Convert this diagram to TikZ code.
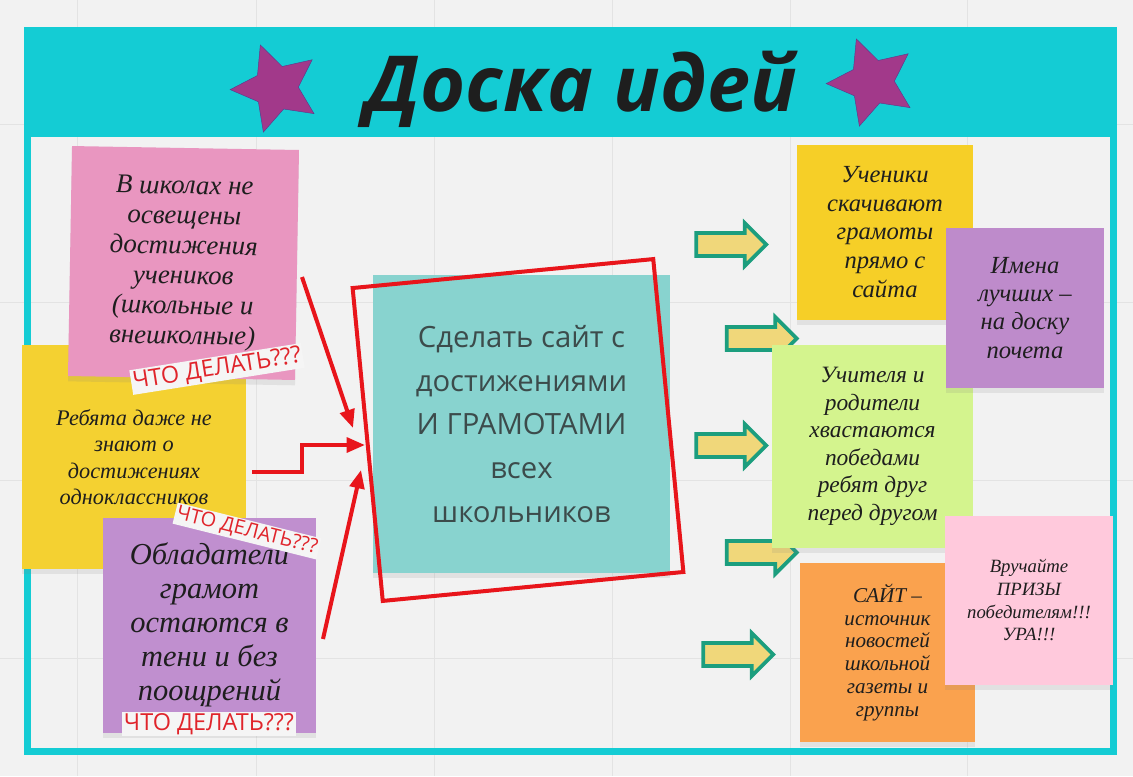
\documentclass[tikz,border=0pt]{standalone}
\usepackage{fontspec}
\newfontfamily\hand{Liberation Serif}
\newfontfamily\osans{Open Sans}
\usetikzlibrary{positioning,arrows.meta,shapes.geometric,shapes.arrows,shadows}
\definecolor{cbg}{HTML}{F2F2F2}
\definecolor{cgrid}{HTML}{E3E3E3}
\definecolor{cteal}{HTML}{14CCD4}
\definecolor{cstar}{HTML}{A2398A}
\definecolor{cstarline}{HTML}{5E3A8C}
\definecolor{cred}{HTML}{E8151B}
\definecolor{ctagred}{HTML}{E0242B}
\definecolor{ctag}{HTML}{F5F5F5}
\definecolor{cpink}{HTML}{E996C0}
\definecolor{cyellow}{HTML}{F4D131}
\definecolor{cviolet}{HTML}{C08FCF}
\definecolor{cmint}{HTML}{88D3CF}
\definecolor{cgold}{HTML}{F6CF27}
\definecolor{clilac}{HTML}{BE8BCB}
\definecolor{clime}{HTML}{D4F48E}
\definecolor{corange}{HTML}{FAA24E}
\definecolor{crose}{HTML}{FFC9DC}
\definecolor{cgreen}{HTML}{1C9E7E}
\definecolor{cbody}{HTML}{F0D77A}
\definecolor{cink}{HTML}{1E1E1E}
\definecolor{cslate}{HTML}{3C4B4B}
\newcommand\handsz[2]{\hand\itshape\fontsize{#1}{#2}\selectfont}
\tikzset{
  note/.style={rectangle, inner sep=0pt, align=center, text=cink, drop shadow={shadow xshift=0pt, shadow yshift=-1.6mm, opacity=.15}},
  tag/.style={fill=ctag, text=ctagred, inner sep=1.5pt},
  redarr/.style={draw=cred, line width=1.2mm, -{Triangle[length=5.5mm, width=4.4mm]}},
  fatarr/.style={single arrow, draw=cgreen, fill=cbody, line width=1.1mm, inner sep=0pt, text height=0.58cm, text depth=0pt, minimum height=2.1cm, single arrow head extend=0.3cm},
  star5/.style={star, star points=5, star point ratio=2.05, fill=cstar, draw=cstarline, thin, minimum size=2.75cm, inner sep=0pt},
  gridline/.style={draw=cgrid, line width=0.4pt},
}
\begin{document}
\begin{tikzpicture}[x=0.03cm, y=-0.03cm]
  % board
  \fill[cbg] (0,0) rectangle (1133,776);
  \useasboundingbox (0,0) rectangle (1133,776);
  \foreach \gx in {77,256,434,612,790,967} \draw[gridline] (\gx,0) -- (\gx,776);
  \foreach \gy in {124,302,480,658} \draw[gridline] (0,\gy) -- (1133,\gy);
  \fill[cteal] (24,27) rectangle (1117,137);
  \draw[cteal, line width=2.1mm] (27.5,30.5) rectangle (1113.5,751.5);

  % title
  \node[star5, rotate=20] (sl) at (276,88) {};
  \node[star5, rotate=20] (sr) at (872,82) {};
  \node[anchor=base, inner sep=0pt, font=\osans\bfseries\itshape\fontsize{66}{70}\selectfont, text=cink] (ttl) at (581,111) {Доска идей};

  % problems
  \node[note, fill=cyellow, minimum width=6.72cm, minimum height=6.72cm, font=\handsz{19}{22.5}] (nR) at (134,457) {Ребята даже не\\знают о\\достижениях\\одноклассников};
  \node[note, fill=cpink, minimum width=6.81cm, minimum height=6.9cm, rotate=-1, font=\handsz{23}{25.6}] (nB) at (183.5,263) {В школах не\\освещены\\достижения\\учеников\\(школьные и\\внешколные)};
  \node[note, fill=cviolet, minimum width=6.39cm, minimum height=6.45cm, font=\handsz{26}{29}] (nO) at (209.5,625) {Обладатели\\грамот\\остаются в\\тени и без\\поощрений};
  \node[tag, rotate=9, font=\osans\fontsize{20}{22}\selectfont] (q1) at (217,369) {ЧТО ДЕЛАТЬ???};
  \node[tag, rotate=-14, font=\osans\fontsize{17}{19}\selectfont] (q2) at (247,531) {ЧТО ДЕЛАТЬ???};
  \node[tag, font=\osans\fontsize{20}{22}\selectfont] (q3) at (209,724) {ЧТО ДЕЛАТЬ???};

  % idea
  \node[note, fill=cmint, minimum width=8.91cm, minimum height=8.94cm, text=cslate, font=\osans\fontsize{25}{37.5}\selectfont] (nC) at (521.5,424) {Сделать сайт с\\достижениями\\И ГРАМОТАМИ\\всех\\школьников};
  \node[draw=cred, line width=1.2mm, minimum width=9.06cm, minimum height=9.43cm, rotate=5.5] (rf) at (518,430) {};

  \coordinate (s1) at (302,277);
  \coordinate (t1) at (353,428);
  \coordinate (s2) at (252,472);
  \coordinate (t2) at (365,445);
  \coordinate (s3) at (323,639);
  \coordinate (t3) at (361,470);
  \draw[redarr] (s1) -- (t1);
  \draw[redarr] (s2) -- ++(50,0) |- (t2);
  \draw[redarr] (s3) -- (t3);

  % results
  \node[fatarr] (a1) at (725.5,244.5) {};
  \node[fatarr] (a2) at (756,338.5) {};
  \node[fatarr] (a3) at (725.5,445.5) {};
  \node[fatarr] (a4) at (756,552.5) {};
  \node[fatarr] (a5) at (732.5,654.5) {};

  \node[note, fill=cgold, minimum width=5.28cm, minimum height=5.25cm, font=\handsz{21}{24.5}] (nU) at (885,232) {Ученики\\скачивают\\грамоты\\прямо с\\сайта};
  \node[note, fill=clime, minimum width=6.03cm, minimum height=6.09cm, font=\handsz{20}{23.5}] (nT) at (872.5,446.5) {Учителя и\\родители\\хвастаются\\победами\\ребят друг\\перед другом};
  \node[note, fill=clilac, minimum width=4.74cm, minimum height=4.8cm, font=\handsz{21}{24}] (nI) at (1025,308) {Имена\\лучших –\\на доску\\почета};
  \node[note, fill=corange, minimum width=5.25cm, minimum height=5.37cm, font=\handsz{18}{19.6}] (nS) at (887.5,652.5) {САЙТ –\\источник\\новостей\\школьной\\газеты и\\группы};
  \node[note, fill=crose, minimum width=5.04cm, minimum height=5.07cm, font=\handsz{16}{19.6}] (nP) at (1029,600) {Вручайте\\ПРИЗЫ\\победителям!!!\\УРА!!!};
\end{tikzpicture}
\end{document}
